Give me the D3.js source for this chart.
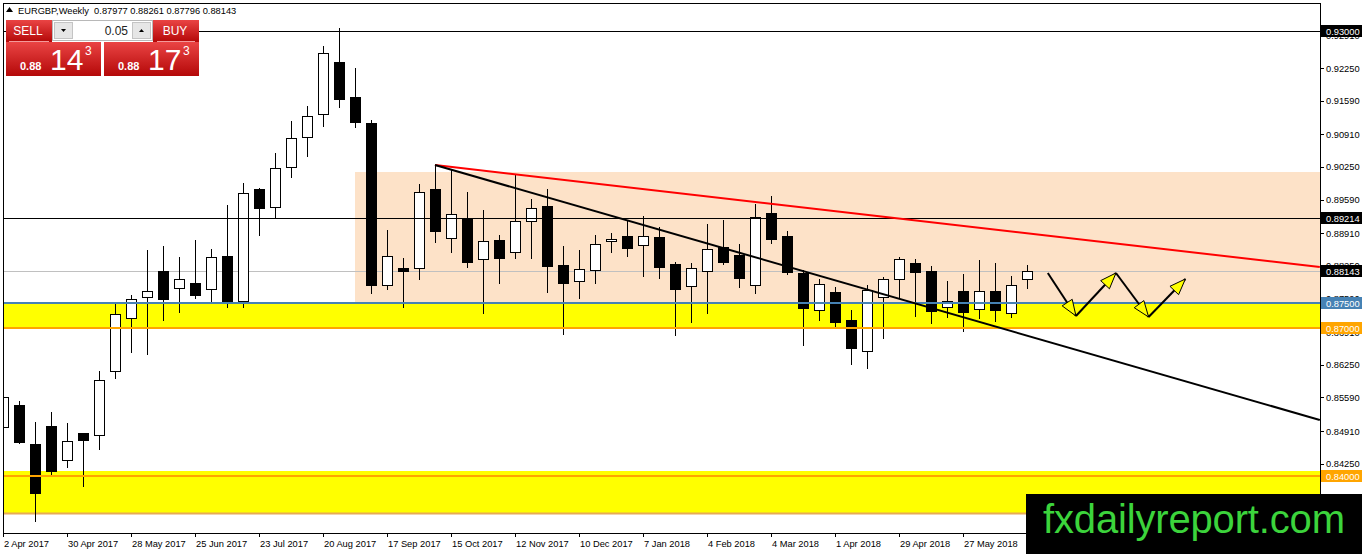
<!DOCTYPE html>
<html>
<head>
<meta charset="utf-8">
<script src="https://cdn.jsdelivr.net/npm/d3@7"></script>
<style>
body { margin: 0; background: #fff; }
svg text { font-family: "Liberation Sans", Arial, sans-serif; }
</style>
</head>
<body>
<div id="graph"></div>
<script>
// bougies hebdomadaires EURGBP, semaine 0 = 2 Apr 2017
var ouvertures = [0.84992, 0.85437, 0.84648, 0.85012, 0.84325, 0.84871, 0.84830, 0.86125, 0.87196, 0.87621,
                  0.88147, 0.87803, 0.87904, 0.87783, 0.88450, 0.87540, 0.89805, 0.89441, 0.90250, 0.90856,
                  0.91322, 0.92373, 0.91665, 0.91140, 0.87864, 0.88207, 0.88207, 0.89805, 0.88814, 0.89218,
                  0.88389, 0.88774, 0.88531, 0.89158, 0.89461, 0.88268, 0.87944, 0.88167, 0.88753, 0.88854,
                  0.88672, 0.88834, 0.88288, 0.87843, 0.88147, 0.88632, 0.88470, 0.87864, 0.89320, 0.88854,
                  0.88106, 0.87358, 0.87722, 0.87156, 0.86529, 0.87621, 0.87985, 0.88308, 0.88147, 0.87419,
                  0.87742, 0.87378, 0.87742, 0.87297, 0.87977];
var hauts = [0.85882, 0.85518, 0.85093, 0.85295, 0.85073, 0.84871, 0.86125, 0.87500, 0.87661, 0.88571,
             0.88652, 0.88430, 0.88774, 0.88592, 0.89481, 0.89926, 0.89825, 0.90533, 0.91180, 0.91483,
             0.92697, 0.93061, 0.92252, 0.91200, 0.88976, 0.88410, 0.89906, 0.90290, 0.90209, 0.89744,
             0.89380, 0.88875, 0.90088, 0.89603, 0.89805, 0.88652, 0.88571, 0.88875, 0.88915, 0.89178,
             0.89259, 0.89037, 0.88329, 0.88308, 0.89097, 0.89178, 0.88693, 0.89502, 0.89663, 0.88956,
             0.88167, 0.87985, 0.87823, 0.87358, 0.87864, 0.88025, 0.88430, 0.88389, 0.88248, 0.87944,
             0.88086, 0.88369, 0.88308, 0.88046, 0.88261];
var bas = [0.84931, 0.84669, 0.83091, 0.84001, 0.84183, 0.83799, 0.84547, 0.85983, 0.86509, 0.86468,
           0.87156, 0.87318, 0.87601, 0.87540, 0.87419, 0.87419, 0.88875, 0.89218, 0.90048, 0.90472,
           0.91079, 0.91463, 0.91059, 0.87702, 0.87783, 0.87419, 0.87985, 0.88733, 0.88531, 0.88228,
           0.87297, 0.87904, 0.88410, 0.88410, 0.87722, 0.86873, 0.87601, 0.87904, 0.88531, 0.88450,
           0.88046, 0.88005, 0.86852, 0.87115, 0.87297, 0.88288, 0.87823, 0.87702, 0.88713, 0.88086,
           0.86650, 0.87156, 0.87014, 0.86266, 0.86185, 0.86792, 0.87621, 0.87237, 0.87095, 0.87217,
           0.86933, 0.87196, 0.87136, 0.87217, 0.87796];
var clotures = [0.85599, 0.84689, 0.83657, 0.84102, 0.84709, 0.84729, 0.85943, 0.87277, 0.87580, 0.87742,
                0.87580, 0.87985, 0.87661, 0.88430, 0.87500, 0.89724, 0.89421, 0.90230, 0.90836, 0.91281,
                0.92555, 0.91625, 0.91160, 0.87864, 0.88450, 0.88147, 0.89744, 0.88956, 0.89299, 0.88329,
                0.88753, 0.88410, 0.89158, 0.89421, 0.88248, 0.87904, 0.88187, 0.88693, 0.88794, 0.88612,
                0.88854, 0.88228, 0.87783, 0.88207, 0.88592, 0.88329, 0.88005, 0.89239, 0.88794, 0.88126,
                0.87398, 0.87884, 0.87115, 0.86590, 0.87762, 0.87985, 0.88389, 0.88126, 0.87338, 0.87540,
                0.87318, 0.87742, 0.87358, 0.87864, 0.88143];

var etiquettesX = ["2 Apr 2017", "30 Apr 2017", "28 May 2017", "25 Jun 2017", "23 Jul 2017", "20 Aug 2017",
                   "17 Sep 2017", "15 Oct 2017", "12 Nov 2017", "10 Dec 2017", "7 Jan 2018", "4 Feb 2018",
                   "4 Mar 2018", "1 Apr 2018", "29 Apr 2018", "27 May 2018"];
var ticksPrix = [0.92910, 0.92250, 0.91590, 0.90910, 0.90250, 0.89590, 0.88910, 0.88250,
                 0.87590, 0.86910, 0.86250, 0.85590, 0.84910, 0.84250, 0.83590];

var lignesNoires = [0.93000, 0.89214];
var niveauBleu = 0.87500;
var niveauxOranges = [0.87000, 0.84000];
var zonesJaunes = [[0.87500, 0.87000], [0.84102, 0.83233]];
var zonePeche = [22, 0.90149, 0.87500];          // semaine de début, haut, bas
var ligneRouge = [[27, 0.90290], [82.3, 0.88227]];
var ligneNoire = [[27, 0.90290], [82.3, 0.85133]];
var fleches = [[65.3, 0.88106], [67.06, 0.87237], [69.56, 0.88106], [71.6, 0.87216], [73.9, 0.87985]];

var symbole = "EURGBP,Weekly",
    lot = "0.05",
    prixVente = 0.88143,
    prixAchat = 0.88173;

function dessinGraphique() {
    var largeur = 1362, hauteur = 554,
        zone = {gauche: 3, droite: 1320, haut: 3, bas: 533},
        n = ouvertures.length,

        svg = d3.select("#graph")
            .append("svg")
                .attr("width", largeur)
                .attr("height", hauteur),

        x = d3.scaleLinear()
            .domain([0, 82.3125])
            .range([zone.gauche, zone.droite]),

        y = d3.scaleLinear()
            .domain([0.82848, 0.93566])
            .range([zone.bas, zone.haut]),

        px = function (v) { return Math.round(v) + 0.5; };

    var defs = svg.append("defs");
    defs.append("clipPath").attr("id", "zone")
        .append("rect")
            .attr("x", zone.gauche).attr("y", zone.haut)
            .attr("width", zone.droite - zone.gauche).attr("height", zone.bas - zone.haut);
    var grad = defs.append("linearGradient").attr("id", "rouge")
        .attr("x1", 0).attr("y1", 0).attr("x2", 0).attr("y2", 1);
    grad.append("stop").attr("offset", "0%").attr("stop-color", "#ea4444");
    grad.append("stop").attr("offset", "100%").attr("stop-color", "#b40808");

    var g = svg.append("g").attr("clip-path", "url(#zone)");

    // rectangles de fond
    g.append("rect")
        .attr("x", Math.round(x(zonePeche[0])))
        .attr("y", Math.round(y(zonePeche[1])))
        .attr("width", zone.droite - Math.round(x(zonePeche[0])))
        .attr("height", Math.round(y(zonePeche[2])) - Math.round(y(zonePeche[1])))
        .style("fill", "#fde2c8");
    g.selectAll(".jaune")
        .data(zonesJaunes)
        .enter()
        .append("rect")
        .attr("x", zone.gauche)
        .attr("y", function (d) { return Math.round(y(d[0])); })
        .attr("width", zone.droite - zone.gauche)
        .attr("height", function (d) { return Math.round(y(d[1])) - Math.round(y(d[0])); })
        .style("fill", "#ffff00");
    g.append("line")
        .attr("x1", zone.gauche).attr("x2", zone.droite)
        .attr("y1", px(y(zonesJaunes[1][1])) - 1).attr("y2", px(y(zonesJaunes[1][1])) - 1)
        .style("stroke", "#e8aa55").style("stroke-width", 2);

    // ligne du prix actuel
    g.append("line")
        .attr("x1", zone.gauche).attr("x2", zone.droite)
        .attr("y1", px(y(clotures[n - 1]))).attr("y2", px(y(clotures[n - 1])))
        .style("stroke", "#c0c0c0").style("stroke-width", 1);

    // bougies
    var bougies = d3.range(n).map(function (i) {
        return {i: i, o: ouvertures[i], h: hauts[i], l: bas[i], c: clotures[i]};
    });
    g.selectAll(".meche")
        .data(bougies)
        .enter()
        .append("line")
        .attr("x1", function (d) { return px(x(d.i)); })
        .attr("x2", function (d) { return px(x(d.i)); })
        .attr("y1", function (d) { return Math.round(y(d.h)); })
        .attr("y2", function (d) { return Math.round(y(d.l)) + 1; })
        .style("stroke", "#000")
        .style("stroke-width", 1);
    g.selectAll(".corps")
        .data(bougies)
        .enter()
        .append("rect")
        .attr("x", function (d) { return Math.round(x(d.i)) - 5 + 0.5; })
        .attr("y", function (d) { return px(y(Math.max(d.o, d.c))); })
        .attr("width", 10)
        .attr("height", function (d) { return Math.max(1, Math.round(Math.abs(y(d.o) - y(d.c)))); })
        .style("fill", function (d) { return d.c >= d.o ? "#fff" : "#000"; })
        .style("stroke", "#000")
        .style("stroke-width", 1);

    // niveaux horizontaux
    g.selectAll(".noire")
        .data(lignesNoires)
        .enter()
        .append("line")
        .attr("x1", zone.gauche).attr("x2", zone.droite)
        .attr("y1", function (d) { return px(y(d)); })
        .attr("y2", function (d) { return px(y(d)); })
        .style("stroke", "#000").style("stroke-width", 1);
    g.selectAll(".orange")
        .data(niveauxOranges)
        .enter()
        .append("line")
        .attr("x1", zone.gauche).attr("x2", zone.droite)
        .attr("y1", function (d) { return Math.round(y(d)); })
        .attr("y2", function (d) { return Math.round(y(d)); })
        .style("stroke", "#ffa500").style("stroke-width", 2);
    g.append("line")
        .attr("x1", zone.gauche).attr("x2", zone.droite)
        .attr("y1", Math.round(y(niveauBleu))).attr("y2", Math.round(y(niveauBleu)))
        .style("stroke", "#4682b4").style("stroke-width", 2);

    // lignes de tendance
    var trace = d3.line()
        .x(function (d) { return x(d[0]); })
        .y(function (d) { return y(d[1]); });
    g.append("path").datum(ligneRouge)
        .attr("d", trace)
        .style("fill", "none").style("stroke", "#ff0000").style("stroke-width", 2);
    g.append("path").datum(ligneNoire)
        .attr("d", trace)
        .style("fill", "none").style("stroke", "#000").style("stroke-width", 2);

    // flèches de projection
    for (var k = 0; k < fleches.length - 1; k++) {
        var x0 = x(fleches[k][0]), y0 = y(fleches[k][1]),
            x1 = x(fleches[k + 1][0]), y1 = y(fleches[k + 1][1]),
            lg = Math.sqrt((x1 - x0) * (x1 - x0) + (y1 - y0) * (y1 - y0)),
            ux = (x1 - x0) / lg, uy = (y1 - y0) / lg,
            bx = x1 - ux * 16, by = y1 - uy * 16;
        g.append("line")
            .attr("x1", x0).attr("y1", y0).attr("x2", x1).attr("y2", y1)
            .style("stroke", "#000").style("stroke-width", 2);
        g.append("path")
            .attr("d", "M" + x1 + "," + y1 +
                       "L" + (bx - uy * 6) + "," + (by + ux * 6) +
                       "L" + (bx + uy * 6) + "," + (by - ux * 6) + "Z")
            .style("fill", "#ffff00").style("stroke", "#000").style("stroke-width", 1);
    }

    // cadre
    svg.append("rect")
        .attr("x", zone.gauche + 0.5).attr("y", zone.haut + 0.5)
        .attr("width", zone.droite - zone.gauche).attr("height", zone.bas - zone.haut)
        .style("fill", "none").style("stroke", "#000");

    // axe des prix
    svg.selectAll(".tick-prix")
        .data(ticksPrix)
        .enter()
        .append("line")
        .attr("x1", zone.droite).attr("x2", zone.droite + 4)
        .attr("y1", function (d) { return px(y(d)); })
        .attr("y2", function (d) { return px(y(d)); })
        .style("stroke", "#000");
    svg.selectAll(".label-prix")
        .data(ticksPrix)
        .enter()
        .append("text")
        .attr("x", zone.droite + 6)
        .attr("y", function (d) { return y(d) + 3.5; })
        .style("font-size", "9.3px")
        .style("fill", "#000")
        .text(function (d) { return d.toFixed(5); });

    var etiquettes = [
        {p: lignesNoires[0], fond: "#000"},
        {p: lignesNoires[1], fond: "#000"},
        {p: clotures[n - 1], fond: "#000"},
        {p: niveauBleu, fond: "#4682b4"},
        {p: niveauxOranges[0], fond: "#ffa500"},
        {p: niveauxOranges[1], fond: "#ffa500"}
    ];
    svg.selectAll(".tag")
        .data(etiquettes)
        .enter()
        .append("rect")
        .attr("x", zone.droite + 1)
        .attr("y", function (d) { return Math.round(y(d.p)) - 6; })
        .attr("width", 41).attr("height", 12)
        .style("fill", function (d) { return d.fond; });
    svg.selectAll(".tag-texte")
        .data(etiquettes)
        .enter()
        .append("text")
        .attr("x", zone.droite + 6)
        .attr("y", function (d) { return Math.round(y(d.p)) + 3.5; })
        .style("font-size", "9.3px")
        .style("fill", "#fff")
        .text(function (d) { return d.p.toFixed(5); });

    // axe du temps
    svg.selectAll(".tick-temps")
        .data(etiquettesX)
        .enter()
        .append("line")
        .attr("x1", function (d, i) { return px(x(i * 4)); })
        .attr("x2", function (d, i) { return px(x(i * 4)); })
        .attr("y1", zone.bas).attr("y2", zone.bas + 4)
        .style("stroke", "#000");
    svg.selectAll(".label-temps")
        .data(etiquettesX)
        .enter()
        .append("text")
        .attr("x", function (d, i) { return x(i * 4) + 1; })
        .attr("y", zone.bas + 14)
        .style("font-size", "9.3px")
        .style("fill", "#000")
        .text(function (d) { return d; });

    // en-tête
    svg.append("path")
        .attr("d", "M6,12L9.5,7L13,12Z")
        .style("fill", "#000");
    svg.append("text")
        .attr("x", 18).attr("y", 14)
        .attr("xml:space", "preserve")
        .style("white-space", "pre")
        .style("font-size", "9.3px")
        .style("fill", "#000")
        .text(symbole + "  " + [ouvertures[n - 1], hauts[n - 1], bas[n - 1], clotures[n - 1]]
            .map(function (v) { return v.toFixed(5); }).join(" "));

    // panneau de trading
    var p = svg.append("g");
    p.append("rect").attr("x", 6).attr("y", 20).attr("width", 46).attr("height", 22).style("fill", "url(#rouge)");
    p.append("rect").attr("x", 153).attr("y", 20).attr("width", 46).attr("height", 22).style("fill", "url(#rouge)");
    p.append("rect").attr("x", 6).attr("y", 42).attr("width", 95).attr("height", 34).style("fill", "url(#rouge)");
    p.append("rect").attr("x", 104).attr("y", 42).attr("width", 95).attr("height", 34).style("fill", "url(#rouge)");
    p.append("line").attr("x1", 9).attr("x2", 49).attr("y1", 41.5).attr("y2", 41.5).style("stroke", "#f39a9a");
    p.append("line").attr("x1", 157).attr("x2", 195).attr("y1", 41.5).attr("y2", 41.5).style("stroke", "#f39a9a");
    p.append("text").attr("x", 28).attr("y", 35).attr("text-anchor", "middle")
        .style("font-size", "12px").style("fill", "#fff").text("SELL");
    p.append("text").attr("x", 175).attr("y", 35).attr("text-anchor", "middle")
        .style("font-size", "12px").style("fill", "#fff").text("BUY");

    p.append("rect").attr("x", 52.5).attr("y", 20.5).attr("width", 100).attr("height", 20)
        .style("fill", "#fff").style("stroke", "#b8b8b8");
    p.append("rect").attr("x", 54.5).attr("y", 22.5).attr("width", 18).attr("height", 16)
        .style("fill", "#e6e6e6").style("stroke", "#c4c4c4");
    p.append("rect").attr("x", 132.5).attr("y", 22.5).attr("width", 18).attr("height", 16)
        .style("fill", "#e6e6e6").style("stroke", "#c4c4c4");
    p.append("path").attr("d", "M61,29L66,29L63.5,32Z").style("fill", "#000");
    p.append("path").attr("d", "M139,32L144,32L141.5,29Z").style("fill", "#000");
    p.append("text").attr("x", 128).attr("y", 35).attr("text-anchor", "end")
        .style("font-size", "12px").style("fill", "#222").text(lot);

    [[prixVente, 6], [prixAchat, 104]].forEach(function (d) {
        var s = d[0].toFixed(5);
        p.append("text").attr("x", d[1] + 14).attr("y", 70)
            .style("font-size", "11px").style("font-weight", "bold").style("fill", "#fff")
            .text(s.slice(0, 4));
        p.append("text").attr("x", d[1] + 44).attr("y", 70)
            .style("font-size", "30px").style("fill", "#fff")
            .text(s.slice(4, 6));
        p.append("text").attr("x", d[1] + 79).attr("y", 55)
            .style("font-size", "12px").style("fill", "#fff")
            .text(s.slice(6, 7));
    });

    // logo
    svg.append("rect")
        .attr("x", 1026).attr("y", 494).attr("width", 336).attr("height", 60)
        .style("fill", "#000");
    svg.append("text")
        .attr("x", 1043).attr("y", 533)
        .attr("textLength", 302)
        .style("font-size", "40px")
        .style("fill", "#3cd43c")
        .text("fxdailyreport.com");
}

dessinGraphique();
</script>
</body>
</html>
